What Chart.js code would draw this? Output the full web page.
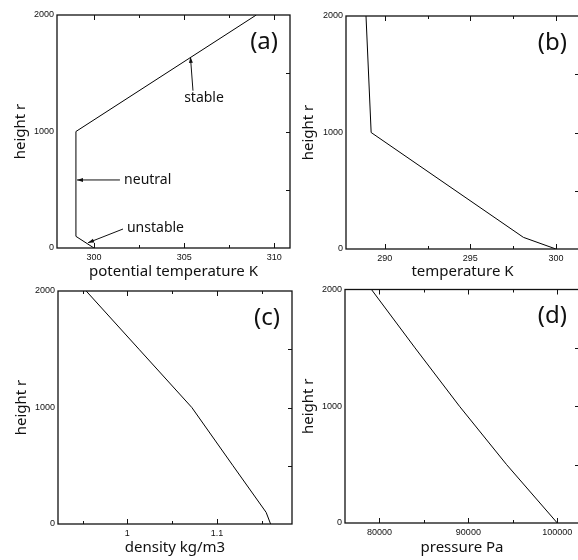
<!DOCTYPE html>
<html>
<head>
<meta charset="utf-8">
<script src="https://cdn.jsdelivr.net/npm/chart.js@4.4.1/dist/chart.umd.min.js"></script>
<style>
  body { margin: 0; background: #fff; width: 578px; height: 560px; overflow: hidden; position: relative; }
  canvas { position: absolute; }
</style>
</head>
<body>
<canvas id="pa" width="296" height="290" style="left:0;top:0"></canvas>
<canvas id="pb" width="282" height="290" style="left:300px;top:0"></canvas>
<canvas id="pc" width="296" height="290" style="left:0;top:276px"></canvas>
<canvas id="pd" width="282" height="290" style="left:300px;top:276px"></canvas>
<script>
// profiles (height in m)
const heightA = [0, 100, 1000, 2000];
const thetaA = [300, 299, 299, 309];

const heightB = [0, 100, 1000, 2000];
const tempB = [300, 298.1, 289.2, 288.9];

const heightC = [0, 100, 500, 1000, 1500, 2000];
const densC = [1.160, 1.155, 1.118, 1.072, 1.013, 0.954];

const heightD = [0, 500, 1000, 1500, 2000];
const presD = [100000, 94300, 89000, 84000, 79100];

// ticks (minor ones have empty labels)
const yTicks = [0, 500, 1000, 1500, 2000];
const yLabels = ['0', '', '1000', '', '2000'];
const xTicksA = [300, 302.5, 305, 307.5, 310];
const xLabelsA = ['300', '', '305', '', '310'];
const xTicksB = [290, 292.5, 295, 297.5, 300];
const xLabelsB = ['290', '', '295', '', '300'];
const xTicksC = [0.95, 1, 1.05, 1.1, 1.15];
const xLabelsC = ['', '1', '', '1.1', ''];
const xTicksD = [80000, 85000, 90000, 95000, 100000];
const xLabelsD = ['80000', '', '90000', '', '100000'];

const panelTags = ['(a)', '(b)', '(c)', '(d)'];
const yTitle = 'height r';

// labels with arrows in panel (a), in data units
const notesA = [
  { text: 'stable', x: 305.0, y: 1288, fromX: 305.49, fromY: 1350, toX: 305.35, toY: 1640 },
  { text: 'neutral', x: 301.67, y: 584, fromX: 301.44, fromY: 584, toX: 299.06, toY: 584 },
  { text: 'unstable', x: 301.83, y: 172, fromX: 301.61, fromY: 163, toX: 299.67, toY: 45 }
];

const INK = '#111';
const SANS = '"Noto Sans", "DejaVu Sans", sans-serif';

// box around the plot with inward ticks on all sides
const framePlugin = {
  id: 'frame',
  afterDatasetsDraw(chart) {
    const { ctx, chartArea: { left, top, right, bottom }, scales: { x, y } } = chart;
    ctx.save();
    ctx.strokeStyle = INK;
    ctx.lineWidth = 1.3;
    ctx.strokeRect(left, top, right - left, bottom - top);
    ctx.lineWidth = 1;
    x.ticks.forEach(t => {
      const px = Math.round(x.getPixelForValue(t.value)) + 0.5;
      const len = t.label ? 5 : 3;
      ctx.beginPath();
      ctx.moveTo(px, bottom); ctx.lineTo(px, bottom - len);
      ctx.moveTo(px, top); ctx.lineTo(px, top + len);
      ctx.stroke();
    });
    y.ticks.forEach(t => {
      if (t.value <= y.min || t.value >= y.max) return;
      const py = Math.round(y.getPixelForValue(t.value)) + 0.5;
      ctx.beginPath();
      ctx.moveTo(right, py); ctx.lineTo(right - 4, py);
      ctx.stroke();
    });
    ctx.restore();
  }
};

// "(a)" style tag in the top right corner
const tagPlugin = {
  id: 'tag',
  afterDraw(chart, args, opts) {
    const { ctx, chartArea: { top, right } } = chart;
    ctx.save();
    ctx.fillStyle = INK;
    ctx.font = '24px ' + SANS;
    ctx.textAlign = 'right';
    ctx.textBaseline = 'middle';
    ctx.fillText(opts.text, right - 12, top + 27);
    ctx.restore();
  }
};

// text labels with arrows pointing at the curve
const notesPlugin = {
  id: 'notes',
  afterDatasetsDraw(chart, args, opts) {
    const items = opts.items || [];
    if (!items.length) return;
    const { ctx, scales: { x, y } } = chart;
    ctx.save();
    ctx.strokeStyle = INK;
    ctx.fillStyle = INK;
    ctx.lineWidth = 1;
    ctx.font = '14px ' + SANS;
    ctx.textAlign = 'left';
    ctx.textBaseline = 'middle';
    items.forEach(n => {
      ctx.fillText(n.text, x.getPixelForValue(n.x), y.getPixelForValue(n.y));
      const x0 = x.getPixelForValue(n.fromX), y0 = y.getPixelForValue(n.fromY);
      const x1 = x.getPixelForValue(n.toX), y1 = y.getPixelForValue(n.toY);
      ctx.beginPath(); ctx.moveTo(x0, y0); ctx.lineTo(x1, y1); ctx.stroke();
      const a = Math.atan2(y1 - y0, x1 - x0);
      ctx.beginPath();
      ctx.moveTo(x1, y1);
      ctx.lineTo(x1 - 6 * Math.cos(a) + 2 * Math.sin(a), y1 - 6 * Math.sin(a) - 2 * Math.cos(a));
      ctx.lineTo(x1 - 6 * Math.cos(a) - 2 * Math.sin(a), y1 - 6 * Math.sin(a) + 2 * Math.cos(a));
      ctx.closePath(); ctx.fill();
    });
    ctx.restore();
  }
};

function makePanel(id, cfg) {
  return new Chart(document.getElementById(id), {
    type: 'line',
    data: {
      datasets: [{
        data: cfg.xs.map((v, i) => ({ x: v, y: cfg.ys[i] })),
        borderColor: '#000',
        borderWidth: 1,
        pointRadius: 0,
        tension: 0,
        fill: false
      }]
    },
    options: {
      responsive: false,
      animation: false,
      layout: { padding: cfg.pad },
      plugins: {
        legend: { display: false },
        tooltip: { enabled: false },
        tag: { text: cfg.tag },
        notes: { items: cfg.notes || [] }
      },
      scales: {
        x: {
          type: 'linear',
          min: cfg.xMin, max: cfg.xMax,
          grid: { display: false, drawTicks: false },
          border: { display: false },
          afterBuildTicks: s => { s.ticks = cfg.xTicks.map(v => ({ value: v })); },
          afterFit: s => { s.height = cfg.xH; },
          ticks: {
            autoSkip: false, maxRotation: 0, padding: 4, color: INK,
            font: { family: 'Liberation Sans', size: 9 },
            callback: (v, i) => cfg.xLabels[i]
          },
          title: {
            display: true, text: cfg.xTitle, color: INK,
            font: { family: SANS, size: 15 },
            padding: { top: 0, bottom: 9 }
          }
        },
        y: {
          type: 'linear',
          min: 0, max: 2000,
          grid: { display: false, drawTicks: false },
          border: { display: false },
          afterBuildTicks: s => { s.ticks = yTicks.map(v => ({ value: v })); },
          afterFit: s => { s.width = cfg.yW; },
          ticks: {
            autoSkip: false, padding: 3, color: INK,
            font: { family: 'Liberation Sans', size: 9 },
            callback: (v, i) => yLabels[i]
          },
          title: {
            display: true, text: yTitle, color: INK,
            font: { family: SANS, size: 15 },
            padding: { top: cfg.yTitlePad, bottom: 0 }
          }
        }
      }
    },
    plugins: [framePlugin, tagPlugin, notesPlugin]
  });
}

makePanel('pa', {
  xs: thetaA, ys: heightA, xMin: 297.95, xMax: 310.87,
  xTicks: xTicksA, xLabels: xLabelsA, xTitle: 'potential temperature K',
  tag: panelTags[0], notes: notesA,
  pad: { top: 15, right: 6, left: 0, bottom: 0 }, yW: 57, xH: 42, yTitlePad: 12
});
makePanel('pb', {
  xs: tempB, ys: heightB, xMin: 287.73, xMax: 301.35,
  xTicks: xTicksB, xLabels: xLabelsB, xTitle: 'temperature K',
  tag: panelTags[1],
  pad: { top: 16, right: 3, left: 0, bottom: 0 }, yW: 46, xH: 41, yTitlePad: 0
});
makePanel('pc', {
  xs: densC, ys: heightC, xMin: 0.9225, xMax: 1.1839,
  xTicks: xTicksC, xLabels: xLabelsC, xTitle: 'density kg/m3',
  tag: panelTags[2],
  pad: { top: 15, right: 4, left: 0, bottom: 0 }, yW: 58, xH: 42, yTitlePad: 13
});
makePanel('pd', {
  xs: presD, ys: heightD, xMin: 76126, xMax: 102440,
  xTicks: xTicksD, xLabels: xLabelsD, xTitle: 'pressure Pa',
  tag: panelTags[3],
  pad: { top: 13.5, right: 3, left: 0, bottom: 0 }, yW: 45, xH: 43, yTitlePad: 0
});
</script>
</body>
</html>
